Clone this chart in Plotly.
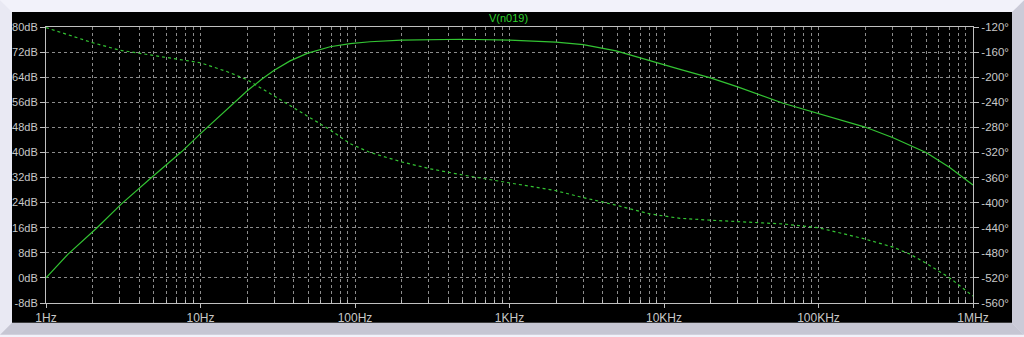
import plotly.graph_objects as go

# ---------------- data ----------------
mag_freq = [1, 1.39, 2.14, 3.08, 4.82, 7.54, 10, 14.8, 20, 25, 30, 38, 49, 69,
            93, 125, 200, 500, 1e3, 2e3, 3e3, 4.9e3, 8.1e3, 12.7e3, 20e3, 30e3,
            59e3, 100e3, 200e3, 304e3, 500e3, 707e3, 1e6]
mag_db = [0, 7.6, 16, 23.6, 32, 40.2, 46.0, 53.8, 59.6, 63.4, 66.2, 69.2, 71.6,
          73.7, 74.7, 75.3, 75.8, 76.1, 75.8, 75.2, 74.4, 72.4, 69.2, 66.5,
          63.8, 60.9, 55.7, 52.4, 48.1, 44.7, 39.9, 35.2, 29.6]

ph_freq = [1, 2, 3, 5, 7.4, 10, 14.8, 20, 30, 49, 69, 93, 125, 200, 306, 500,
           1e3, 2e3, 3e3, 4.9e3, 8.1e3, 12.7e3, 20e3, 30e3, 59e3, 100e3, 200e3,
           304e3, 390e3, 500e3, 707e3, 1e6]
ph_deg = [-121, -145, -157, -165, -172, -177, -191, -204, -230, -262, -284,
          -306, -320, -335, -346, -356, -368, -381, -392, -404, -418, -425,
          -428, -430, -434, -440, -458, -471, -482, -497, -520, -549]

x_tick_vals = [1, 10, 100, 1e3, 1e4, 1e5, 1e6]
x_tick_text = ["1Hz", "10Hz", "100Hz", "1KHz", "10KHz", "100KHz", "1MHz"]
db_tick_vals = [80, 72, 64, 56, 48, 40, 32, 24, 16, 8, 0, -8]
db_tick_text = ["80dB", "72dB", "64dB", "56dB", "48dB", "40dB", "32dB", "24dB",
                "16dB", "8dB", "0dB", "-8dB"]
ph_tick_vals = [-120, -160, -200, -240, -280, -320, -360, -400, -440, -480,
                -520, -560]
ph_tick_text = ["-120°", "-160°", "-200°", "-240°", "-280°", "-320°", "-360°",
                "-400°", "-440°", "-480°", "-520°", "-560°"]
title_text = "V(n019)"

# ---------------- styling ----------------
W, H = 1024, 337
ML, MR, MT, MB = 46, 51, 27, 32
PW, PH = W - ML - MR, H - MT - MB
GREEN = "#33C433"
TXT = "#C8C8C8"
GRID = "#8C8C8C"
AXIS = "#C0C0C0"
FONT = "Liberation Sans"

minor_vals = [m * 10 ** d for d in range(6) for m in range(2, 10)]


def px(x):
    return (x - ML) / PW


def py(y):
    return (H - MB - y) / PH


fig = go.Figure()
fig.add_trace(go.Scatter(x=mag_freq, y=mag_db, mode="lines",
                         line=dict(color=GREEN, width=1.2),
                         hoverinfo="skip", showlegend=False))
fig.add_trace(go.Scatter(x=ph_freq, y=ph_deg, mode="lines", yaxis="y2",
                         line=dict(color=GREEN, width=1.2, dash="3px,3px"),
                         hoverinfo="skip", showlegend=False))

shapes = [
    # bevel frame
    dict(type="path", xref="paper", yref="paper", layer="below", line=dict(width=0),
         fillcolor="#E9E9F3",
         path=f"M{px(0)},{py(0)} L{px(12)},{py(12)} L{px(12)},{py(325)} L{px(0)},{py(337)} Z"),
    dict(type="path", xref="paper", yref="paper", layer="below", line=dict(width=0),
         fillcolor="#CBCBD8",
         path=f"M{px(1012)},{py(12)} L{px(1024)},{py(0)} L{px(1024)},{py(337)} L{px(1012)},{py(325)} Z"),
    dict(type="path", xref="paper", yref="paper", layer="below", line=dict(width=0),
         fillcolor="#C6C6D3",
         path=f"M{px(12)},{py(325)} L{px(1012)},{py(325)} L{px(1024)},{py(337)} L{px(0)},{py(337)} Z"),
    # black panel
    dict(type="rect", xref="paper", yref="paper", layer="below", line=dict(width=0),
         fillcolor="#000000", x0=px(12), x1=px(1012), y0=py(325), y1=py(12)),
]

fig.update_layout(
    width=W, height=H,
    margin=dict(l=ML, r=MR, t=MT, b=MB),
    paper_bgcolor="#F2F2FA",
    plot_bgcolor="#000000",
    font=dict(family=FONT, size=11, color=TXT),
    shapes=shapes,
    showlegend=False,
    xaxis=dict(type="log", range=[0, 6], tickvals=x_tick_vals, ticktext=x_tick_text,
               showgrid=True, gridcolor=GRID, griddash="3px,3px", gridwidth=1,
               ticks="outside", ticklen=4, tickcolor=AXIS,
               showline=True, linecolor=AXIS, linewidth=1, mirror=True,
               zeroline=False, tickfont=dict(family=FONT, size=12, color=TXT),
               minor=dict(tickvals=minor_vals, showgrid=True, gridcolor=GRID,
                          griddash="3px,3px", gridwidth=1, ticks="inside",
                          ticklen=3, tickcolor=AXIS)),
    yaxis=dict(range=[-8, 80], tickvals=db_tick_vals, ticktext=db_tick_text,
               showgrid=True, gridcolor=GRID, griddash="3px,3px", gridwidth=1,
               ticks="outside", ticklen=5, tickcolor=AXIS,
               showline=True, linecolor=AXIS, linewidth=1, zeroline=False,
               tickfont=dict(family=FONT, size=11, color=TXT)),
    yaxis2=dict(range=[-560, -120], overlaying="y", side="right",
                tickvals=ph_tick_vals, ticktext=ph_tick_text, showgrid=False,
                ticks="outside", ticklen=5, tickcolor=AXIS,
                showline=True, linecolor=AXIS, linewidth=1, zeroline=False,
                tickfont=dict(family=FONT, size=11.5, color=TXT)),
    annotations=[dict(text=title_text, x=px(508), y=py(18), xref="paper", yref="paper",
                      showarrow=False, xanchor="center", yanchor="middle",
                      font=dict(family=FONT, size=11, color="#2ED02E"))],
)

fig.write_html("out.html")
